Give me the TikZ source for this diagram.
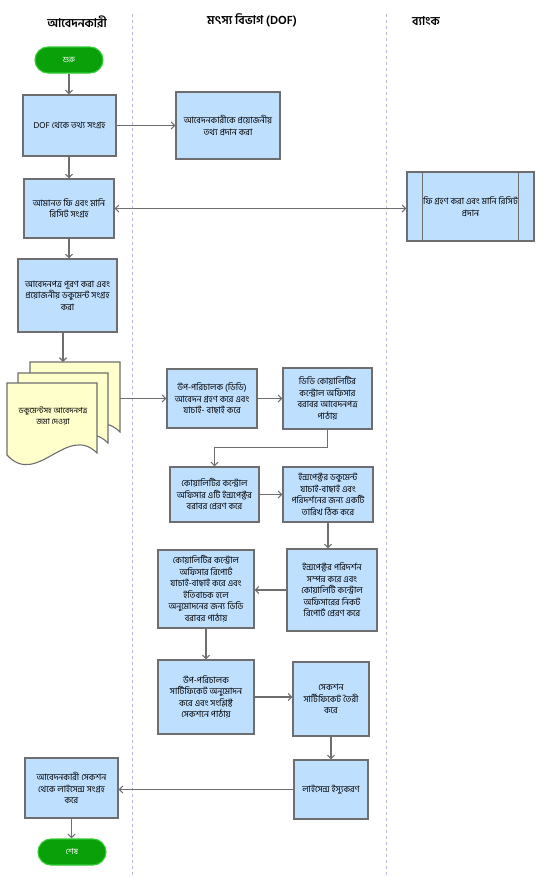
\documentclass[tikz,border=0pt]{standalone}
\usepackage{fontspec}
\newfontfamily\bn[Script=Bengali]{Hind Siliguri}
\usetikzlibrary{arrows.meta,calc}
\definecolor{boxfill}{HTML}{BFDFFF}
\definecolor{boxline}{HTML}{6E6E6E}
\definecolor{docfill}{HTML}{FFFFCC}
\definecolor{pillfill}{HTML}{0AA00A}
\definecolor{pillline}{HTML}{33CC33}
\definecolor{lanecol}{HTML}{B4B9D8}
\tikzset{
  box/.style={draw=boxline, fill=boxfill, line width=1.1pt, align=center,
    font=\bn\fontsize{8.8}{11.5}\selectfont, inner sep=1pt},
  pill/.style={draw=pillline, fill=pillfill, line width=1.1pt, rounded corners=13pt,
    text=white, font=\bn\fontsize{8}{9}\selectfont, minimum width=68pt, minimum height=26pt},
  hdr/.style={font=\bn\bfseries\fontsize{12}{14}\selectfont},
  arr/.style={draw=boxline, line width=1.1pt, -{Straight Barb[length=3.5pt,width=7pt]}},
  darr/.style={draw=boxline, line width=1.1pt, {Straight Barb[length=3.5pt,width=7pt]}-{Straight Barb[length=3.5pt,width=7pt]}},
  lane/.style={draw=lanecol, line width=0.6pt, dash pattern=on 3pt off 3pt},
  docsty/.style={draw=boxline, fill=docfill, line width=1.1pt}
}
\newcommand\docpage[2]{%
  \filldraw[docsty] (#1,#2) -- ++(90,0) -- ++(0,70)
    .. controls ($(#1,#2)+(60,40)$) and ($(#1,#2)+(30,105)$) .. ($(#1,#2)+(0,72)$) -- cycle;}
\begin{document}
\begin{tikzpicture}[x=1pt,y=-1pt]
\useasboundingbox[fill=white] (0,0) rectangle (549,878);
% lanes
\draw[lane] (132,14) -- (132,878);
\draw[lane] (386,14) -- (386,878);
% headers
\node[hdr] (h1) at (77,22) {আবেদনকারী};
\node[hdr] (h2) at (252,20) {মৎস্য বিভাগ (DOF)};
\node[hdr] (h3) at (426,21) {ব্যাংক};
% nodes
\node[pill] (start) at (69,60) {শুরু};
\node[box, minimum width=93pt, minimum height=61pt] (b1) at (69.5,125.5) {DOF থেকে তথ্য সংগ্রহ};
\node[box, minimum width=104pt, minimum height=67pt] (b2) at (228,125.5) {আবেদনকারীকে  প্রয়োজনীয়\\তথ্য প্রদান করা};
\node[box, minimum width=90pt, minimum height=59pt] (b3) at (69,208.5) {আমানত ফি এবং মানি\\রিসিট সংগ্রহ};
\node[box, minimum width=127pt, minimum height=69pt] (bank) at (470.5,206.5) {ফি গ্রহণ করা এবং মানি রিসিট\\প্রদান};
\draw[boxline, line width=1.1pt] ($(bank.north west)+(16,0)$) -- ($(bank.south west)+(16,0)$);
\draw[boxline, line width=1.1pt] ($(bank.north east)+(-16,0)$) -- ($(bank.south east)+(-16,0)$);
\node[box, minimum width=99pt, minimum height=73pt] (b4) at (67.5,295.5) {আবেদনপত্র পূরণ করা এবং\\প্রয়োজনীয় ডকুমেন্ট সংগ্রহ\\করা};
% document stack
\docpage{30}{362}
\docpage{18}{373}
\docpage{7}{383}
\node[align=center, font=\bn\fontsize{8}{11.5}\selectfont] (doc) at (53,416) {ডকুমেন্টসহ আবেদনপত্র\\জমা দেওয়া};
\coordinate (doctop) at (63,362);
\coordinate (docright) at (120,398.5);
\node[box, minimum width=90pt, minimum height=59pt] (b5) at (212,398.5) {উপ-পরিচালক (ডিডি)\\আবেদন গ্রহণ করে এবং\\যাচাই- বাছাই করে};
\node[box, minimum width=89pt, minimum height=61pt] (b6) at (327.5,398.5) {ডিডি কোয়ালিটির\\কন্ট্রোল অফিসার\\বরাবর আবেদনপত্র\\পাঠায়};
\node[box, minimum width=89pt, minimum height=55pt] (b7) at (214.5,494.5) {কোয়ালিটির কন্ট্রোল\\অফিসার এটি ইন্সপেক্টর\\বরাবর প্রেরণ করে};
\node[box, minimum width=90pt, minimum height=55pt] (b8) at (328,494.5) {ইন্সপেক্টর ডকুমেন্ট\\যাচাই-বাছাই  এবং\\পরিদর্শনের জন্য একটি\\তারিখ ঠিক করে};
\node[box, minimum width=96pt, minimum height=78pt] (b9) at (206,589) {কোয়ালিটির কন্ট্রোল\\অফিসার রিপোর্ট\\যাচাই-বাছাই করে এবং\\ইতিবাচক হলে\\অনুমোদনের জন্য ডিডি\\বরাবর পাঠায়};
\node[box, minimum width=90pt, minimum height=82pt] (b10) at (332,590) {ইন্সপেক্টর পরিদর্শন\\সম্পন্ন করে এবং\\কোয়ালিটি কন্ট্রোল\\অফিসারের নিকট\\রিপোর্ট প্রেরণ করে};
\node[box, minimum width=96pt, minimum height=74pt] (b11) at (206,697) {উপ-পরিচালক\\সার্টিফিকেট অনুমোদন\\করে এবং সংশ্লিষ্ট\\সেকশনে পাঠায়};
\node[box, minimum width=76pt, minimum height=74pt] (b12) at (331,699) {সেকশন\\সার্টিফিকেট তৈরী\\করে};
\node[box, minimum width=74pt, minimum height=59pt] (b13) at (331,789.5) {লাইসেন্স ইস্যুকরণ};
\node[box, minimum width=93pt, minimum height=60pt] (b14) at (71.5,788) {আবেদনকারী সেকশন\\থেকে লাইসেন্স সংগ্রহ\\করে};
\node[pill] (end) at (72,852) {শেষ};
% connectors
\draw[arr] (start.south) -- (start.south |- b1.north);
\draw[arr] (b1.east) -- (b2.west |- b1.east);
\draw[arr] (b1.south -| start.south) -- (start.south |- b3.north);
\draw[darr] (b3.east) -- (b3.east -| bank.west);
\draw[arr] (b3.south) -- (b3.south |- b4.north);
\draw[arr] (b4.south -| doctop) -- (doctop);
\draw[arr] (docright) -- (b5.west);
\draw[arr] (b5.east) -- (b6.west);
\draw[arr] (b6.south) -- ++(0,18) -| (b7.north);
\draw[arr] (b7.east) -- (b8.west);
\draw[arr] (b8.south) -- (b8.south |- b10.north);
\draw[arr] (b10.west) -- (b10.west -| b9.east);
\draw[arr] (b9.south) -- (b9.south |- b11.north);
\draw[arr] (b11.east) -- (b11.east -| b12.west);
\draw[arr] (b12.south) -- (b12.south |- b13.north);
\draw[arr] (b13.west) -- (b13.west -| b14.east);
\draw[arr] (b14.south) -- (b14.south |- end.north);
\end{tikzpicture}
\end{document}
